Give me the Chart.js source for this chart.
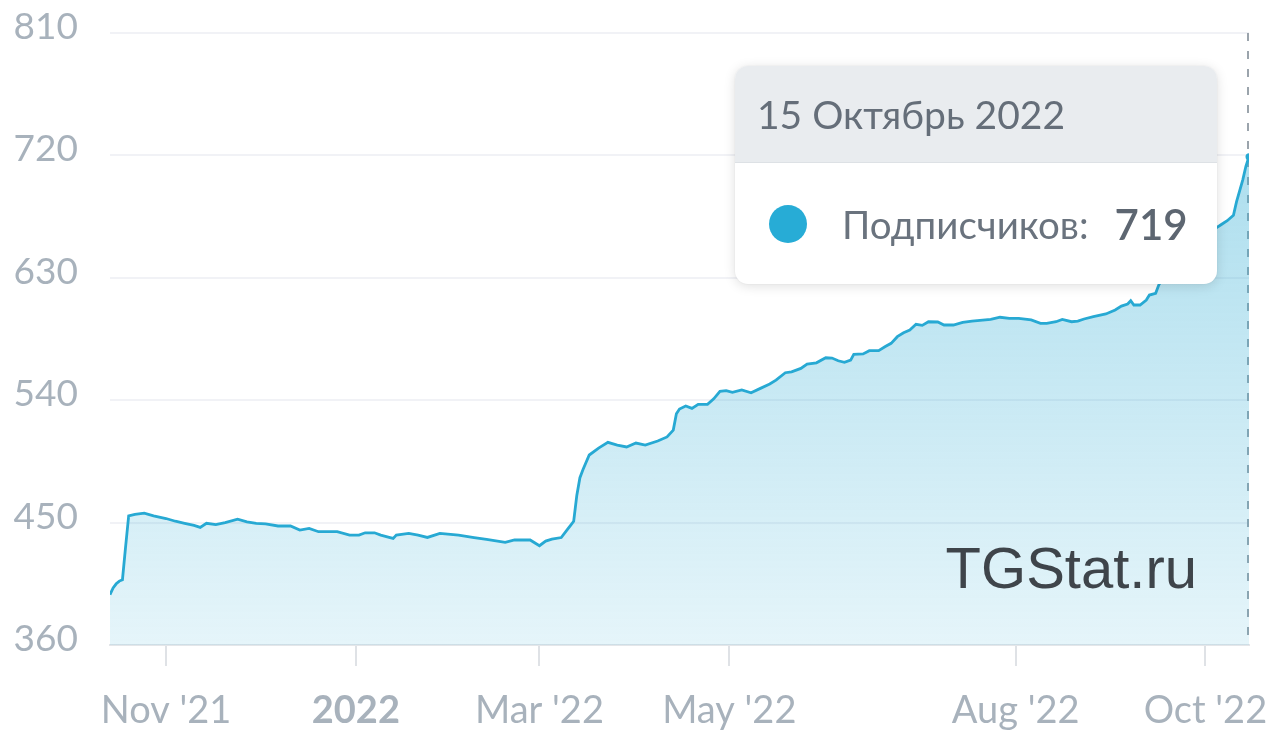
<!DOCTYPE html>
<html>
<head>
<meta charset="utf-8">
<script src="https://cdn.jsdelivr.net/npm/chart.js@4.4.1/dist/chart.umd.min.js"></script>
<style>
  html, body { margin: 0; padding: 0; background: #ffffff; }
  #wrap { position: relative; width: 1273px; height: 731px; overflow: hidden; }
  #c { position: absolute; left: 0; top: 0; }
  #tip {
    position: absolute; left: 735px; top: 66px; width: 482px; height: 218px;
    background: #ffffff; border-radius: 13px; overflow: hidden;
    box-shadow: 0 2px 12px rgba(0,0,0,0.13), 0 0 2px rgba(0,0,0,0.08);
    font-family: Lato, "Open Sans", sans-serif;
  }
  #tip .head {
    height: 96px; background: #e9ecef; border-bottom: 1px solid #dde1e5;
    box-sizing: content-box; display: flex; align-items: center;
    padding-left: 22px; font-size: 39px; color: #656e79;
  }
  #tip .row {
    height: 121px; display: flex; align-items: center; padding-left: 34px;
    font-size: 38.5px; color: #6a737e;
  }
  #tip .dot { width: 38px; height: 38px; border-radius: 50%; background: #27acd6; margin-right: 35px; flex: none; }
  #tip .val { font-weight: 600; font-size: 42px; color: #5d6671; margin-left: 26px; }
</style>
</head>
<body>
<div id="wrap">
  <canvas id="c" width="1273" height="731"></canvas>
  <div id="tip">
    <div class="head" id="tipHead"></div>
    <div class="row"><span class="dot"></span><span id="tipLabel"></span><span class="val" id="tipVal"></span></div>
  </div>
</div>
<script>
// ---- data ----
const dates = [
  '2021-10-14','2021-10-15','2021-10-16','2021-10-17','2021-10-18','2021-10-19','2021-10-20','2021-10-22',
  '2021-10-25','2021-10-28','2021-11-01','2021-11-04','2021-11-07','2021-11-10','2021-11-12','2021-11-14',
  '2021-11-17','2021-11-20','2021-11-24','2021-11-27','2021-11-30','2021-12-03','2021-12-07','2021-12-11',
  '2021-12-14','2021-12-17','2021-12-20','2021-12-26','2021-12-30','2022-01-02','2022-01-04','2022-01-07',
  '2022-01-09','2022-01-12','2022-01-13','2022-01-14','2022-01-18','2022-01-21','2022-01-24','2022-01-28',
  '2022-02-03','2022-02-08','2022-02-12','2022-02-18','2022-02-21','2022-02-26','2022-03-01','2022-03-03',
  '2022-03-05','2022-03-08','2022-03-10','2022-03-11','2022-03-12','2022-03-13','2022-03-14','2022-03-15',
  '2022-03-17','2022-03-20','2022-03-23','2022-03-26','2022-03-29','2022-04-01','2022-04-04','2022-04-08',
  '2022-04-11','2022-04-13','2022-04-14','2022-04-15','2022-04-17','2022-04-19','2022-04-21','2022-04-24',
  '2022-04-26','2022-04-28','2022-04-30','2022-05-02','2022-05-05','2022-05-08','2022-05-11','2022-05-14',
  '2022-05-16','2022-05-19','2022-05-21','2022-05-24','2022-05-26','2022-05-29','2022-06-01','2022-06-03',
  '2022-06-05','2022-06-07','2022-06-09','2022-06-10','2022-06-13','2022-06-15','2022-06-18','2022-06-20',
  '2022-06-22','2022-06-24','2022-06-26','2022-06-28','2022-06-30','2022-07-02','2022-07-04','2022-07-07',
  '2022-07-09','2022-07-12','2022-07-15','2022-07-18','2022-07-24','2022-07-27','2022-07-30','2022-08-02',
  '2022-08-06','2022-08-09','2022-08-11','2022-08-14','2022-08-16','2022-08-19','2022-08-21','2022-08-23',
  '2022-08-26','2022-08-30','2022-09-02','2022-09-04','2022-09-06','2022-09-07','2022-09-08','2022-09-10',
  '2022-09-12','2022-09-13','2022-09-15','2022-09-16','2022-09-19','2022-09-23','2022-09-27','2022-10-01',
  '2022-10-04','2022-10-06','2022-10-08','2022-10-10','2022-10-11','2022-10-13','2022-10-14','2022-10-15'
];
const subscribers = [
  397, 402, 405, 407, 408, 432, 455, 456,
  457, 455, 453, 451, 449.5, 448, 446.5, 449.5,
  448.5, 450, 452.5, 450.5, 449.5, 449, 447.5, 447.5,
  444.5, 445.7, 443.3, 443.3, 440.8, 440.8, 442.5, 442.5,
  440.8, 439, 438.4, 440.8, 442, 440.8, 439.1, 442,
  440.8, 439, 437.7, 435.5, 437.2, 437.2, 433, 436.4,
  437.9, 439, 445, 448, 451, 470, 483, 489,
  499.7, 504.8, 509, 507, 505.6, 508.5, 507, 510,
  513, 518, 530, 533.5, 535.7, 534, 537, 537,
  541, 546.5, 547, 545.8, 547.5, 545.5, 548.7, 551.9,
  554.8, 560.2, 560.9, 563.4, 566.6, 567.5, 571.2, 571,
  569, 567.8, 569.5, 573.7, 574, 576.4, 576.4, 579.3,
  581.8, 586.7, 589.6, 591.6, 595.8, 595, 597.7, 597.5,
  595.3, 595.3, 597.2, 598.2, 599.4, 601, 600.2, 600.2,
  599, 596.5, 596.5, 597.7, 599.4, 597.7, 598.2, 599.7,
  601.4, 603.4, 606.3, 609.2, 610.7, 613.1, 610, 610,
  613.6, 617.3, 618.6, 624.7, 636, 648, 657, 663,
  666, 669, 672, 676, 686, 702, 712, 719
];
const xTickDates = ['2021-11-01','2022-01-01','2022-03-01','2022-05-01','2022-08-01','2022-10-01'];
const xTickLabels = ["Nov '21", '2022', "Mar '22", "May '22", "Aug '22", "Oct '22"];
const yTickValues = [360, 450, 540, 630, 720, 810];
const tooltipDate = '15 Октябрь 2022';
const seriesName = 'Подписчиков:';

// ---- helpers ----
const DAY = 86400000;
function dayNum(s) { const p = s.split('-').map(Number); return Date.UTC(p[0], p[1] - 1, p[2]) / DAY; }
const points = dates.map((d, i) => ({ x: dayNum(d), y: subscribers[i] }));
const lastIdx = points.length - 1;

document.getElementById('tipHead').textContent = tooltipDate;
document.getElementById('tipLabel').textContent = seriesName;
document.getElementById('tipVal').textContent = String(subscribers[lastIdx]);

const LINE = '#27a9d3';
const LABEL = '#a8b2bc';

const overlay = {
  id: 'overlay',
  beforeDatasetsDraw(chart) {
    const { ctx, chartArea } = chart;
    const pt = chart.getDatasetMeta(0).data[lastIdx];
    ctx.save();
    ctx.setLineDash([8, 10]);
    ctx.strokeStyle = '#9ba4ac';
    ctx.lineWidth = 2;
    ctx.beginPath();
    ctx.moveTo(Math.round(pt.x) - 1, chartArea.top);
    ctx.lineTo(Math.round(pt.x) - 1, chartArea.bottom);
    ctx.stroke();
    ctx.restore();
  },
  afterDatasetsDraw(chart) {
    const { ctx, chartArea } = chart;
    ctx.save();
    ctx.font = '58px "Liberation Sans", Arial, sans-serif';
    ctx.fillStyle = 'rgba(45,50,55,0.9)';
    ctx.textAlign = 'right';
    ctx.textBaseline = 'alphabetic';
    ctx.fillText('TGStat.ru', chartArea.right - 52, chartArea.bottom - 57);
    ctx.restore();
  }
};

const ctx = document.getElementById('c').getContext('2d');
new Chart(ctx, {
  type: 'line',
  data: {
    datasets: [{
      data: points,
      borderColor: LINE,
      borderWidth: 2.8,
      tension: 0,
      fill: 'start',
      backgroundColor: (c) => {
        const area = c.chart.chartArea;
        if (!area) return 'rgba(42,170,211,0.2)';
        const g = c.chart.ctx.createLinearGradient(0, area.top, 0, area.bottom);
        g.addColorStop(0, 'rgba(42,170,211,0.45)');
        g.addColorStop(1, 'rgba(42,170,211,0.12)');
        return g;
      },
      pointRadius: (c) => (c.dataIndex === lastIdx ? 3.5 : 0),
      pointBackgroundColor: LINE,
      pointBorderWidth: 0,
      pointHoverRadius: 0
    }]
  },
  options: {
    responsive: false,
    animation: false,
    devicePixelRatio: 1,
    events: [],
    layout: { padding: { left: 0, right: 24, top: 33, bottom: 0 } },
    plugins: { legend: { display: false }, tooltip: { enabled: false } },
    scales: {
      x: {
        type: 'linear',
        min: dayNum(dates[0]),
        max: dayNum(dates[lastIdx]),
        afterBuildTicks: (s) => { s.ticks = xTickDates.map(d => ({ value: dayNum(d) })); },
        afterFit: (s) => { s.height = 86; s.paddingLeft = 0; s.paddingRight = 0; },
        grid: { drawOnChartArea: false, color: '#dfe2e6', lineWidth: 2, tickLength: 21 },
        border: { display: true, color: '#e4e6e9', width: 2 },
        ticks: {
          autoSkip: false, maxRotation: 0, padding: 22,
          color: LABEL,
          font: (c) => ({ family: 'Lato', size: 38, weight: c.index === 1 ? 'bold' : 'normal' }),
          callback: (v, i) => xTickLabels[i]
        }
      },
      y: {
        min: yTickValues[0],
        max: yTickValues[yTickValues.length - 1],
        afterBuildTicks: (s) => { s.ticks = yTickValues.map(v => ({ value: v })); },
        afterFit: (s) => { s.width = 110; s.paddingTop = 0; s.paddingBottom = 0; },
        grid: { color: '#f1f2f6', lineWidth: 2, drawTicks: false },
        border: { display: false },
        ticks: {
          padding: 32, labelOffset: -6,
          color: LABEL,
          font: { family: 'Lato', size: 37 },
          callback: (v) => String(v)
        }
      }
    }
  },
  plugins: [overlay]
});
</script>
</body>
</html>
